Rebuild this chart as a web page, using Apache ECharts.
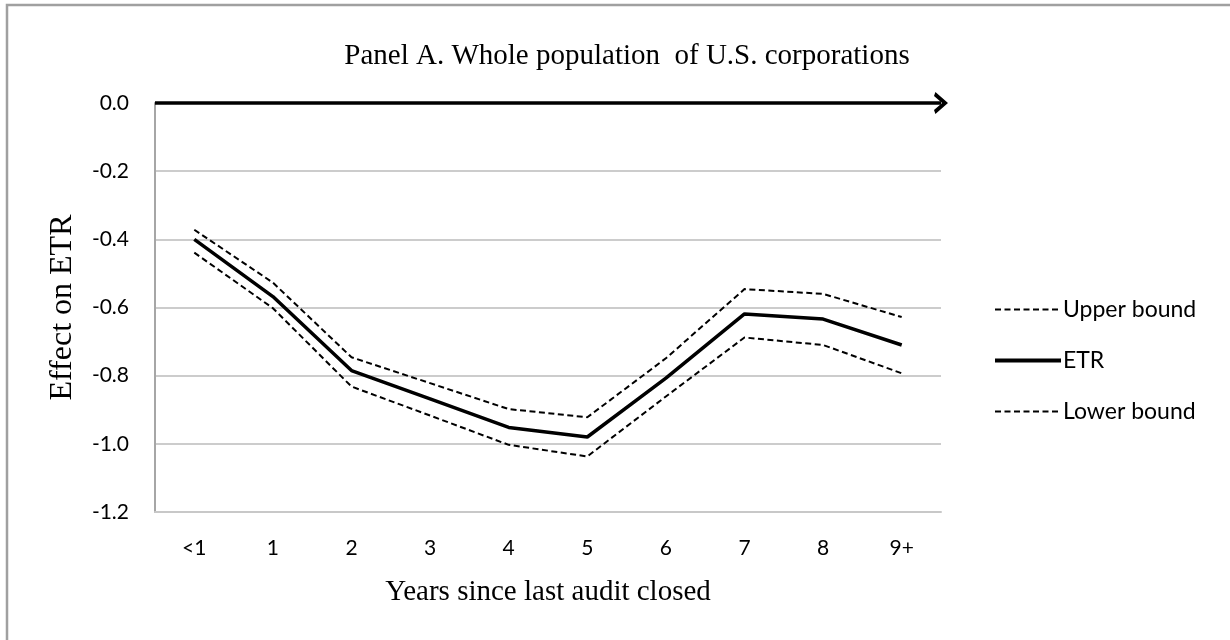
<!DOCTYPE html>
<html>
<head>
<meta charset="utf-8">
<script src="https://cdn.jsdelivr.net/npm/echarts@6/dist/echarts.min.js"></script>
<style>
  html, body { margin: 0; padding: 0; background: #ffffff; }
  #chart { width: 1230px; height: 640px; }
</style>
</head>
<body>
<div id="chart"></div>
<script>
// Years since the last audit closed
const categories = ['<1', '1', '2', '3', '4', '5', '6', '7', '8', '9+'];

// Estimated effect on the effective tax rate, with its confidence band
const etr        = [-0.40, -0.568, -0.785, -0.868, -0.952, -0.98, -0.807, -0.619, -0.634, -0.71];
const upperBound = [-0.372, -0.527, -0.746, -0.822, -0.898, -0.922, -0.749, -0.546, -0.56, -0.628];
const lowerBound = [-0.439, -0.602, -0.832, -0.917, -1.003, -1.037, -0.861, -0.688, -0.71, -0.793];

const yTicks = { min: -1.2, max: 0, interval: 0.2 };

const serif = '"Liberation Serif", "DejaVu Serif", serif';
const sans = 'Lato, "Open Sans", "Liberation Sans", sans-serif';

// open chevron used as the head of the zero-line arrow (points up; rotated by ECharts)
const chevron = 'path://M0,9 L5,0 L10,9 L8.2,10 L5,4.2 L1.8,10 Z';

const dashed = [6, 3.5];

const chart = echarts.init(document.getElementById('chart'), null, { renderer: 'canvas' });

chart.setOption({
  animation: false,
  backgroundColor: '#ffffff',
  title: {
    text: 'Panel A. Whole population  of U.S. corporations',
    left: 622,
    top: 37,
    textAlign: 'center',
    textStyle: { fontFamily: serif, fontSize: 29, fontWeight: 'normal', color: '#000' }
  },
  graphic: [
    {
      type: 'polyline',
      shape: { points: [[7, 640], [7, 5], [1230, 5]] },
      style: { stroke: '#a0a0a0', lineWidth: 2.5, fill: null },
      silent: true
    }
  ],
  legend: {
    orient: 'vertical',
    left: 988,
    top: 293,
    itemWidth: 66,
    itemHeight: 24,
    itemGap: 28,
    itemStyle: { opacity: 0 },
    textStyle: { fontFamily: sans, fontSize: 23, color: '#000', padding: [0, 0, 0, -3] },
    data: [
      { name: 'Upper bound', lineStyle: { color: '#000', width: 2, type: dashed } },
      { name: 'ETR', lineStyle: { color: '#000', width: 4, type: 'solid' } },
      { name: 'Lower bound', lineStyle: { color: '#000', width: 2, type: dashed } }
    ]
  },
  grid: { left: 155, right: 289, top: 103, bottom: 128, containLabel: false },
  xAxis: {
    type: 'category',
    data: categories,
    boundaryGap: true,
    name: 'Years since last audit closed',
    nameLocation: 'middle',
    nameGap: 66,
    nameTextStyle: { fontFamily: serif, fontSize: 29, color: '#000' },
    axisLine: { show: true, onZero: false, lineStyle: { color: '#c8c8c8', width: 2 } },
    axisTick: { show: false },
    axisLabel: { margin: 26, fontFamily: sans, fontSize: 21, color: '#000' },
    splitLine: { show: false }
  },
  yAxis: {
    type: 'value',
    min: yTicks.min,
    max: yTicks.max,
    interval: yTicks.interval,
    name: 'Effect on ETR',
    nameLocation: 'middle',
    nameGap: 76,
    nameRotate: 90,
    nameTextStyle: { fontFamily: serif, fontSize: 32, color: '#000' },
    axisLine: { show: true, lineStyle: { color: '#a6a6a6', width: 2 } },
    axisTick: { show: false },
    axisLabel: {
      margin: 26,
      fontFamily: sans,
      fontSize: 21,
      color: '#000',
      formatter: v => v.toFixed(1)
    },
    splitLine: { show: true, lineStyle: { color: '#cccccc', width: 2 } }
  },
  series: [
    {
      name: 'Upper bound',
      type: 'line',
      data: upperBound,
      symbol: 'none',
      lineStyle: { color: '#000', width: 2, type: dashed },
      itemStyle: { color: '#000' },
      z: 3
    },
    {
      name: 'ETR',
      type: 'line',
      data: etr,
      symbol: 'none',
      lineStyle: { color: '#000', width: 3.5 },
      itemStyle: { color: '#000' },
      z: 4,
      markLine: {
        silent: true,
        symbol: ['none', chevron],
        symbolSize: [22, 14],
        label: { show: false },
        lineStyle: { color: '#000', width: 3.5, type: 'solid' },
        data: [{ yAxis: 0 }]
      }
    },
    {
      name: 'Lower bound',
      type: 'line',
      data: lowerBound,
      symbol: 'none',
      lineStyle: { color: '#000', width: 2, type: dashed },
      itemStyle: { color: '#000' },
      z: 3
    }
  ]
});
</script>
</body>
</html>
